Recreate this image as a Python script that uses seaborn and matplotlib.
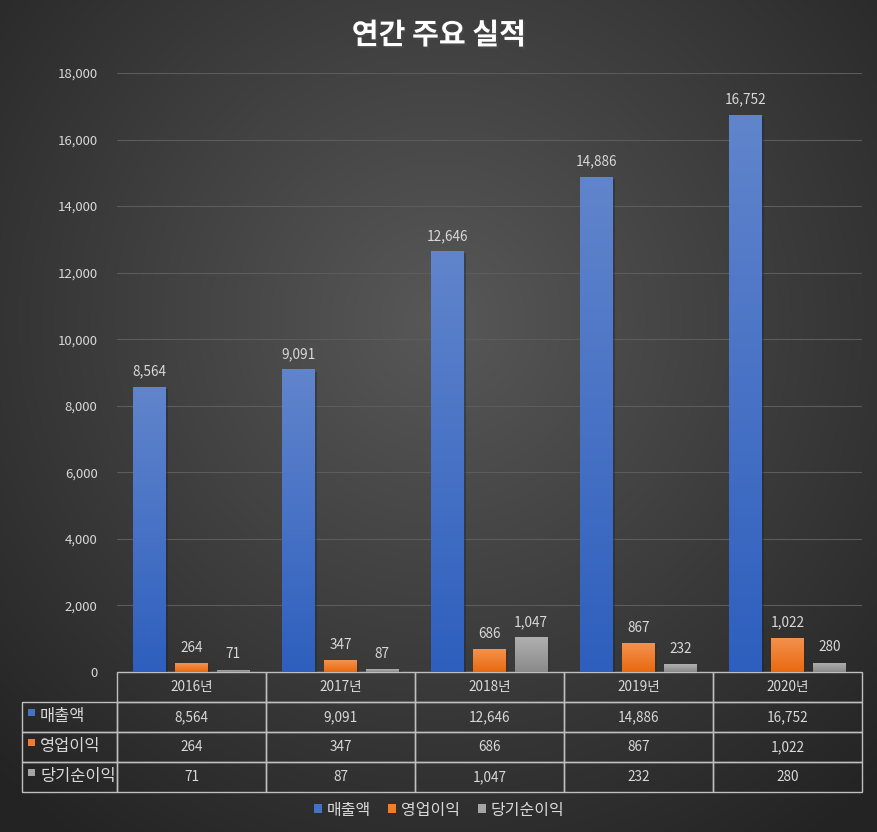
import numpy as np
import pandas as pd
import matplotlib
matplotlib.use("Agg")
import matplotlib.pyplot as plt
import matplotlib.patheffects as pe
from matplotlib.patches import Patch, Rectangle
from matplotlib.ticker import FuncFormatter
import seaborn as sns

years = ["2016년", "2017년", "2018년", "2019년", "2020년"]
series = ["매출액", "영업이익", "당기순이익"]
sales = [8564, 9091, 12646, 14886, 16752]
op_income = [264, 347, 686, 867, 1022]
net_income = [71, 87, 1047, 232, 280]

colors_top = ["#6185cc", "#f4924f", "#b0b0b0"]
colors_bot = ["#2e5fbe", "#e9690f", "#8a8a8a"]
colors_base = ["#4472c4", "#ed7d31", "#a5a5a5"]

df = pd.DataFrame({
    "year": years * 3,
    "item": sum([[s] * len(years) for s in series], []),
    "value": sales + op_income + net_income,
})

sns.set_theme(style="dark")
plt.rcParams["font.family"] = ["Noto Sans CJK KR", "DejaVu Sans"]
txt_col = "#d9d9d9"

W, H = 878, 832
fig = plt.figure(figsize=(W / 100, H / 100), dpi=100)
fig.patch.set_facecolor("#262626")

# radial background
bg = fig.add_axes([0, 0, 1, 1], zorder=-10)
yy, xx = np.mgrid[0:H, 0:W]
r = np.sqrt((xx - 440) ** 2 + (yy - 320) ** 2) / 640
r = np.clip(r, 0, 1)
v = 0x58 + (0x23 - 0x58) * r
img = np.dstack([v, v, v]) / 255
bg.imshow(img, aspect="auto", extent=[0, 1, 0, 1], origin="upper")
bg.set_axis_off()


def px(x, y):
    return x / W, 1 - y / H


ax = fig.add_axes([117 / W, 1 - 672 / H, 745 / W, 599 / H])
ax.set_facecolor("none")

sns.barplot(data=df, x="year", y="value", hue="item", palette=colors_base,
            width=0.84, gap=0.21, legend=False, ax=ax, zorder=3)

for i, cont in enumerate(ax.containers):
    cmap = matplotlib.colors.LinearSegmentedColormap.from_list(
        "g%d" % i, [colors_bot[i], colors_top[i]])
    for bar in cont:
        x0, y0 = bar.get_x(), bar.get_y()
        w, h = bar.get_width(), bar.get_height()
        grad = np.linspace(0, 1, 256).reshape(-1, 1)
        im = ax.imshow(grad, cmap=cmap, aspect="auto", origin="lower",
                       extent=[x0, x0 + w, y0, y0 + h], zorder=4)
        im.set_clip_path(bar)
        bar.set_path_effects([pe.SimplePatchShadow(offset=(1.5, -1.5), alpha=0.4)])
    vals = [int(b.get_height()) for b in cont]
    ax.bar_label(cont, labels=[f"{x:,}" for x in vals], padding=6,
                 color=txt_col, fontsize=9.8, zorder=5)

ax.set_xlim(-0.5, 4.5)
ax.set_ylim(0, 18000)
ax.set_yticks(range(0, 18001, 2000))
ax.yaxis.set_major_formatter(FuncFormatter(lambda x, p: f"{x:,.0f}"))
ax.tick_params(axis="y", colors=txt_col, labelsize=9.5, length=0, pad=14)
ax.set_xticks([])
ax.set_xlabel("")
ax.set_ylabel("")
ax.grid(axis="y", color="#5c5c5c", linewidth=0.8, zorder=0)
ax.grid(axis="x", visible=False)
for s in ax.spines.values():
    s.set_visible(False)

# data table (first column holds the series names)
cell_text = [[name] + [f"{x:,}" for x in row]
             for name, row in zip(series, (sales, op_income, net_income))]
lw = 95 / 745
th = 120 / 599
tbl = ax.table(cellText=cell_text, colLabels=[""] + years,
               colWidths=[95] + [149] * len(years),
               cellLoc="center", bbox=[-lw, -th, 1 + lw, th])
tbl.auto_set_font_size(False)
for (rr, cc), cell in tbl.get_celld().items():
    cell.set_facecolor("none")
    cell.set_edgecolor("#bfbfbf")
    cell.set_linewidth(1)
    cell.get_text().set_color(txt_col)
    cell.get_text().set_fontsize(9.8)
    if cc == 0:
        cell.PAD = 0.19
        cell.get_text().set_ha("left")
        cell._loc = "left"
        cell.get_text().set_fontsize(11.8)
        if rr == 0:
            cell.visible_edges = ""

# colored squares in table row labels
for i, c in enumerate(colors_base):
    yc = 702 + 30 * i + 10
    x0, y0 = px(28, yc + 4)
    fig.add_artist(Rectangle((x0, y0), 7 / W, 7 / H, transform=fig.transFigure,
                             facecolor=c, edgecolor="none"))

# legend
handles = [Patch(facecolor=c, edgecolor="none", label=s) for c, s in zip(colors_base, series)]
leg = fig.legend(handles=handles, loc="center", bbox_to_anchor=(0.5, 1 - 810 / H),
                 ncol=3, frameon=False, fontsize=11.5, handlelength=0.5,
                 handleheight=0.5, handletextpad=0.3, columnspacing=1.1)
for t in leg.get_texts():
    t.set_color(txt_col)

fig.text(0.5, 1 - 35 / H, "연간 주요 실적", ha="center", va="center",
         fontsize=21, fontweight="bold", color="white",
         path_effects=[pe.withSimplePatchShadow(offset=(1.5, -1.5), alpha=0.6)])

fig.savefig("out.png", dpi=100)
